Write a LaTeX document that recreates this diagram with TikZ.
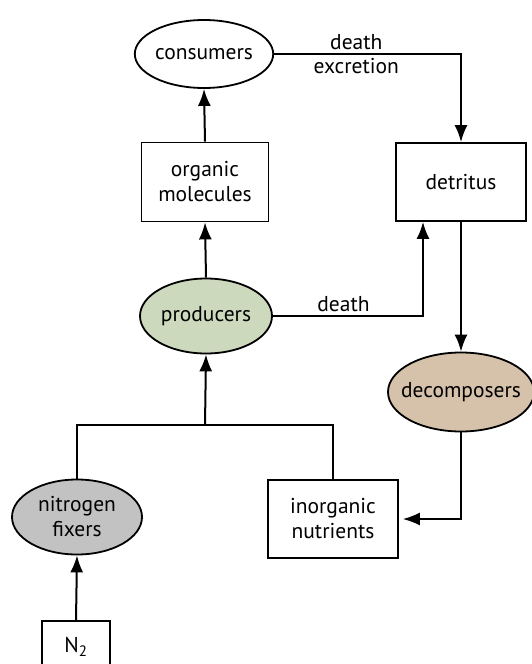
\documentclass[tikz,border=0pt]{standalone}
\usepackage{fontspec}
\setsansfont{PT Sans}
\usepackage{xcolor}
\usepackage{tikz}
\usetikzlibrary{arrows.meta,shapes.geometric}

\definecolor{prodgreen}{RGB}{204,217,188}
\definecolor{decomptan}{RGB}{214,194,170}
\definecolor{fixgray}{RGB}{194,194,194}

\begin{document}
\begin{tikzpicture}[
  x=1pt,y=-1pt,
  font=\fontsize{21.5}{25}\selectfont\sffamily,
  >={Latex[length=17pt,width=13pt]},
  pool/.style={draw,line width=1.8pt,align=center,inner sep=2pt},
  organism/.style={draw,ellipse,line width=1.8pt,align=center,inner sep=0pt},
  flow/.style={->,line width=2pt}
]
\useasboundingbox (0,0) rectangle (532,664);

% organisms
\node[organism,minimum width=132pt,minimum height=68pt] (cons) at (204,54) {consumers};
\node[organism,fill=prodgreen,minimum width=132pt,minimum height=75pt] (prod) at (206,316) {producers};
\node[organism,fill=decomptan,inner xsep=-16pt,minimum width=146pt,minimum height=79pt] (decomp) at (461,392) {decomposers};
\node[organism,fill=fixgray,minimum width=130pt,minimum height=75pt] (nfix) at (77,517) {nitrogen\\fixers};

% pools
\node[pool,minimum width=127pt,minimum height=79pt] (orgmol) at (205,182) {organic\\molecules};
\node[pool,minimum width=130pt,minimum height=78pt] (detritus) at (461,182) {detritus};
\node[pool,minimum width=130pt,minimum height=78pt] (inorg) at (333,519) {inorganic\\nutrients};
\node[pool,minimum width=68pt,minimum height=52pt] (ntwo) at (76,647) {N\textsubscript{2}};

\coordinate (junc) at (205,425);

% fluxes
\draw[flow] (orgmol.north) -- (cons.south);
\draw[flow] (cons.east) -| (detritus.north)
  node[pos=0.22,above=0pt] {death}
  node[pos=0.22,below=0pt] {excretion};
\draw[flow] (prod.north) -- (orgmol.south);
\draw[flow] (prod.east) -| ([xshift=-38pt]detritus.south)
  node[pos=0.235,above=0pt] {death};
\draw[flow] (detritus.south) -- (decomp.north);
\draw[flow,line width=1.5pt] (decomp.south) |- ([xshift=4pt]inorg.east);
\draw[line width=1.8pt] (nfix.north) |- (inorg.north |- junc) -- (inorg.north);
\draw[flow] (junc) -- (prod.south);
\draw[flow] (ntwo.north) -- (nfix.south);
\end{tikzpicture}
\end{document}
